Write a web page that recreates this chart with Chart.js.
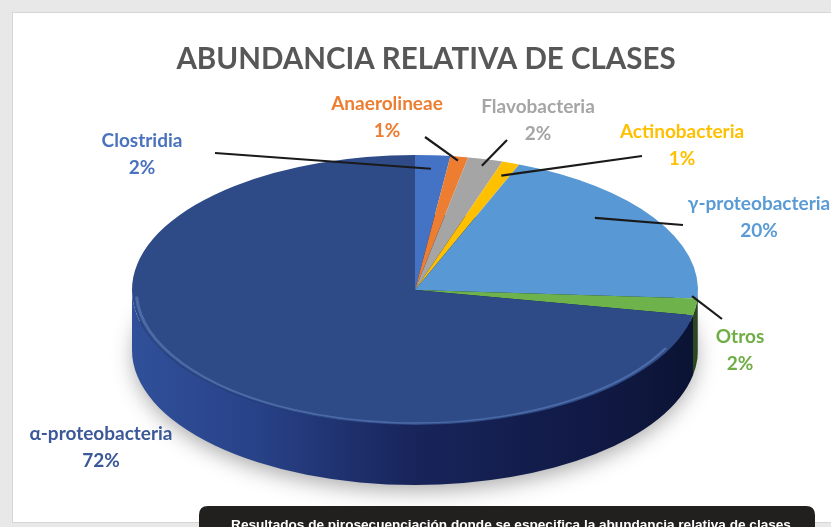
<!DOCTYPE html>
<html>
<head>
<meta charset="utf-8">
<script src="https://cdn.jsdelivr.net/npm/chart.js@4.4.1/dist/chart.umd.min.js"></script>
<style>
  html, body { margin:0; padding:0; background:#e8e8e8; }
  #wrap { position:relative; width:831px; height:527px; overflow:hidden; }
  canvas { display:block; }
</style>
</head>
<body>
<div id="wrap"><canvas id="c" width="831" height="527"></canvas></div>
<script>
// ---- data ----
const titleText = 'ABUNDANCIA RELATIVA DE CLASES';
const categories = ['Clostridia', 'Anaerolineae', 'Flavobacteria', 'Actinobacteria', 'γ-proteobacteria', 'Otros', 'α-proteobacteria'];
const percentages = [2, 1, 2, 1, 20, 2, 72];
const captionText = 'Resultados de pirosecuenciación donde se especifica la abundancia relativa de clases';

// ---- styles ----
const sliceColors = ['#4472c4', '#ed7d31', '#a5a5a5', '#ffc000', '#5898d4', '#6db24a', '#2e4b88'];
const labelColors = ['#4a72bd', '#ed7d31', '#a5a5a5', '#ffc000', '#5b9bd5', '#70ad47', '#3b5898'];
// label layout: [centerX, firstBaseline] and leader line outer end / inner radius fraction
const labelLayout = [[142,147],[387,110],[538,113],[682,138],[759,210],[740,343],[101,440]];
const leaderOuter = [[215,153],[425,137],[507,140],[642,156],[683,225],[722,319],null];
const leaderFrac  = [0.9, 0.97, 0.95, 0.9, 0.83, 0.98, 0];
const leaderAngleShift = [0, 0, 0, 0, -0.133, -0.08, 0];
const RX = 283;     // horizontal radius of the top face
const DEPTH = 60;   // thickness of the pie

function shade(hex, f) {
  const n = parseInt(hex.slice(1), 16);
  const r = Math.round(((n >> 16) & 255) * f), g = Math.round(((n >> 8) & 255) * f), b = Math.round((n & 255) * f);
  return `rgb(${r},${g},${b})`;
}

const backgroundPlugin = {
  id: 'bg',
  beforeDraw(chart) {
    const ctx = chart.ctx;
    ctx.save();
    ctx.fillStyle = '#e8e8e8';
    ctx.fillRect(0, 0, 831, 527);
    ctx.fillStyle = '#ffffff';
    ctx.fillRect(12, 12, 831 - 12, 522 - 12);
    ctx.strokeStyle = '#d6d6d6';
    ctx.lineWidth = 1;
    ctx.strokeRect(12.5, 12.5, 831, 522 - 12);
    // title
    ctx.fillStyle = '#575757';
    ctx.font = 'bold 29.5px Lato';
    ctx.textAlign = 'center';
    ctx.textBaseline = 'alphabetic';
    ctx.fillText(titleText, 426, 69);
    ctx.restore();
  }
};

const pie3dPlugin = {
  id: 'pie3d',
  beforeDatasetsDraw(chart) {
    const ctx = chart.ctx;
    const meta = chart.getDatasetMeta(0);
    const a = meta.data[0];
    const cx = a.x, cy = a.y, r = a.outerRadius;
    const sx = RX / r;
    // shadow under the pie
    ctx.save();
    ctx.translate(cx, cy); ctx.scale(sx, 1);
    ctx.shadowColor = 'rgba(0,0,0,0.35)';
    ctx.shadowBlur = 22;
    ctx.shadowOffsetY = 8;
    ctx.beginPath();
    ctx.arc(0, DEPTH - 2, r - 1, 0, Math.PI * 2);
    ctx.fillStyle = '#101a40';
    ctx.fill();
    ctx.restore();
    // sides
    ctx.save();
    ctx.translate(cx, cy); ctx.scale(sx, 1);
    meta.data.forEach((arc, i) => {
      const s = Math.max(arc.startAngle, 0);
      const e = Math.min(arc.endAngle, Math.PI);
      if (e <= s) return;
      const g = ctx.createLinearGradient(-r, 0, r, 0);
      if (i === 6) {
        g.addColorStop(0, '#30509a');
        g.addColorStop(0.22, '#284288');
        g.addColorStop(0.5, '#18245a');
        g.addColorStop(0.8, '#111a46');
        g.addColorStop(1, '#0b1333');
      } else {
        const c = sliceColors[i];
        g.addColorStop(0, shade(c, 0.85));
        g.addColorStop(0.5, shade(c, 0.6));
        g.addColorStop(1, shade(c, 0.4));
      }
      ctx.beginPath();
      ctx.arc(0, 0, r, s, e);
      ctx.lineTo(r * Math.cos(e), r * Math.sin(e) + DEPTH);
      ctx.arc(0, DEPTH, r, e, s, true);
      ctx.closePath();
      ctx.fillStyle = g;
      ctx.fill();
    });
    ctx.restore();
    // scale the top face
    ctx.save();
    ctx.translate(cx, cy); ctx.scale(sx, 1); ctx.translate(-cx, -cy);
  },
  afterDatasetsDraw(chart) {
    const ctx = chart.ctx;
    ctx.restore();
    const meta = chart.getDatasetMeta(0);
    const a = meta.data[0];
    const cx = a.x, cy = a.y, r = a.outerRadius;
    const sx = RX / r;
    // rim highlight on the front edge
    ctx.save();
    ctx.translate(cx, cy); ctx.scale(sx, 1);
    ctx.beginPath();
    ctx.arc(0, 0, r - 2, 0.45, Math.PI - 0.05);
    ctx.strokeStyle = 'rgba(110,145,205,0.45)';
    ctx.lineWidth = 1.5;
    ctx.stroke();
    ctx.restore();
    // labels and leader lines
    ctx.save();
    meta.data.forEach((arc, i) => {
      const out = leaderOuter[i];
      if (out) {
        const mid = (arc.startAngle + arc.endAngle) / 2 + leaderAngleShift[i];
        const ix = cx + sx * r * leaderFrac[i] * Math.cos(mid);
        const iy = cy + r * leaderFrac[i] * Math.sin(mid);
        ctx.beginPath();
        ctx.moveTo(out[0], out[1]);
        ctx.lineTo(ix, iy);
        ctx.strokeStyle = '#1a1a1a';
        ctx.lineWidth = 2.2;
        ctx.stroke();
      }
      const [lx, ly] = labelLayout[i];
      ctx.fillStyle = labelColors[i];
      ctx.font = 'bold 19px Lato';
      ctx.textAlign = 'center';
      ctx.textBaseline = 'alphabetic';
      ctx.fillText(chart.data.labels[i], lx, ly);
      ctx.fillText(chart.data.datasets[0].data[i] + '%', lx, ly + 27);
    });
    ctx.restore();
  },
  afterDraw(chart) {
    const ctx = chart.ctx;
    ctx.save();
    // caption box
    const x = 199, y = 506, w = 616, h = 40, rr = 9;
    ctx.beginPath();
    ctx.moveTo(x + rr, y);
    ctx.lineTo(x + w - rr, y);
    ctx.quadraticCurveTo(x + w, y, x + w, y + rr);
    ctx.lineTo(x + w, y + h);
    ctx.lineTo(x, y + h);
    ctx.lineTo(x, y + rr);
    ctx.quadraticCurveTo(x, y, x + rr, y);
    ctx.closePath();
    ctx.fillStyle = '#221f1f';
    ctx.fill();
    ctx.fillStyle = '#ffffff';
    ctx.font = 'bold 13.6px "Liberation Sans Narrow", "Liberation Sans", sans-serif';
    ctx.textAlign = 'center';
    ctx.textBaseline = 'alphabetic';
    ctx.fillText(captionText, 511, 529);
    ctx.restore();
  }
};

new Chart(document.getElementById('c'), {
  type: 'pie',
  data: {
    labels: categories,
    datasets: [{
      data: percentages,
      backgroundColor: sliceColors,
      borderWidth: 0,
      clip: false
    }]
  },
  options: {
    responsive: false,
    devicePixelRatio: 1,
    animation: false,
    rotation: 0,
    layout: { padding: { left: 280, right: 281, top: 155, bottom: 102 } },
    plugins: { legend: { display: false }, tooltip: { enabled: false }, title: { display: false } }
  },
  plugins: [backgroundPlugin, pie3dPlugin]
});
</script>
</body>
</html>
